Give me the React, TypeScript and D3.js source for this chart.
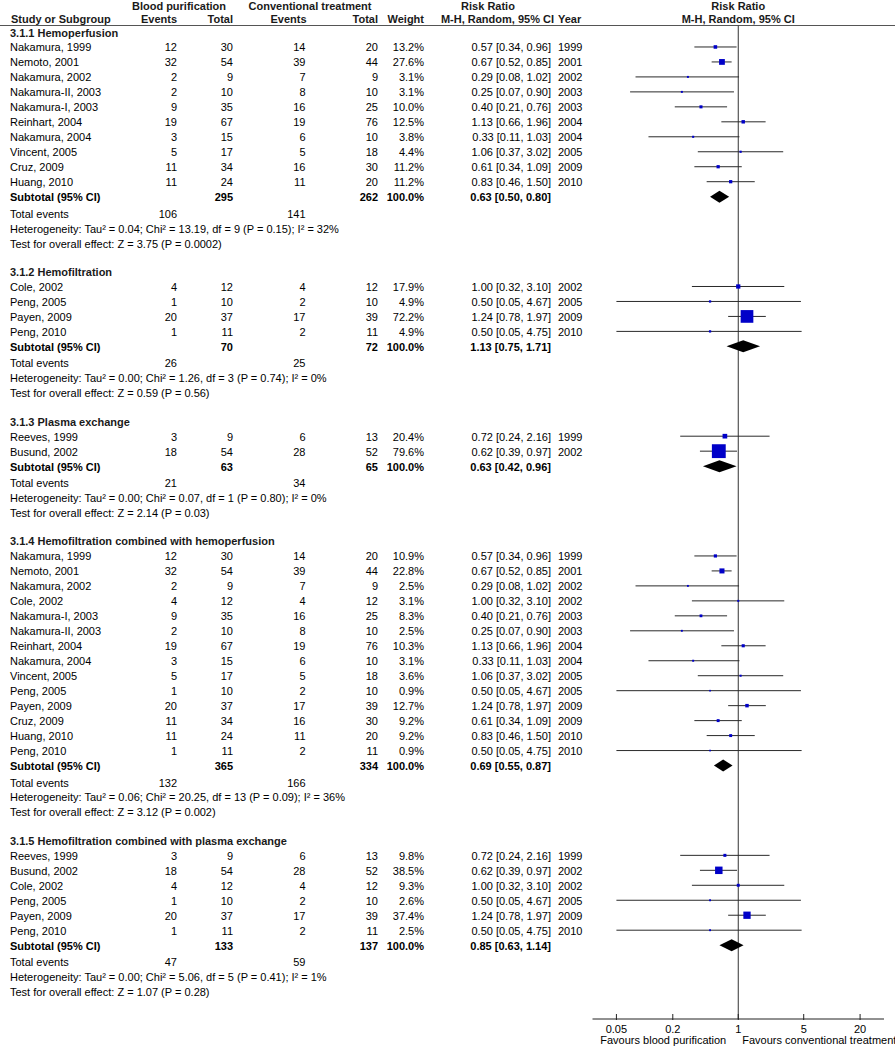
import React from "react";
import * as d3 from "d3";

type Study = [string, number, number, number, number, number, number, number, number, number];
// name, events1, total1, events2, total2, weight, rr, lo, hi, year

const hemoperfusionStudies: Study[] = [
  ["Nakamura, 1999", 12, 30, 14, 20, 13.2, 0.57, 0.34, 0.96, 1999],
  ["Nemoto, 2001", 32, 54, 39, 44, 27.6, 0.67, 0.52, 0.85, 2001],
  ["Nakamura, 2002", 2, 9, 7, 9, 3.1, 0.29, 0.08, 1.02, 2002],
  ["Nakamura-II, 2003", 2, 10, 8, 10, 3.1, 0.25, 0.07, 0.9, 2003],
  ["Nakamura-I, 2003", 9, 35, 16, 25, 10.0, 0.4, 0.21, 0.76, 2003],
  ["Reinhart, 2004", 19, 67, 19, 76, 12.5, 1.13, 0.66, 1.96, 2004],
  ["Nakamura, 2004", 3, 15, 6, 10, 3.8, 0.33, 0.11, 1.03, 2004],
  ["Vincent, 2005", 5, 17, 5, 18, 4.4, 1.06, 0.37, 3.02, 2005],
  ["Cruz, 2009", 11, 34, 16, 30, 11.2, 0.61, 0.34, 1.09, 2009],
  ["Huang, 2010", 11, 24, 11, 20, 11.2, 0.83, 0.46, 1.5, 2010],
];

const hemofiltrationStudies: Study[] = [
  ["Cole, 2002", 4, 12, 4, 12, 17.9, 1.0, 0.32, 3.1, 2002],
  ["Peng, 2005", 1, 10, 2, 10, 4.9, 0.5, 0.05, 4.67, 2005],
  ["Payen, 2009", 20, 37, 17, 39, 72.2, 1.24, 0.78, 1.97, 2009],
  ["Peng, 2010", 1, 11, 2, 11, 4.9, 0.5, 0.05, 4.75, 2010],
];

const plasmaStudies: Study[] = [
  ["Reeves, 1999", 3, 9, 6, 13, 20.4, 0.72, 0.24, 2.16, 1999],
  ["Busund, 2002", 18, 54, 28, 52, 79.6, 0.62, 0.39, 0.97, 2002],
];

const hfHpStudies: Study[] = [
  ["Nakamura, 1999", 12, 30, 14, 20, 10.9, 0.57, 0.34, 0.96, 1999],
  ["Nemoto, 2001", 32, 54, 39, 44, 22.8, 0.67, 0.52, 0.85, 2001],
  ["Nakamura, 2002", 2, 9, 7, 9, 2.5, 0.29, 0.08, 1.02, 2002],
  ["Cole, 2002", 4, 12, 4, 12, 3.1, 1.0, 0.32, 3.1, 2002],
  ["Nakamura-I, 2003", 9, 35, 16, 25, 8.3, 0.4, 0.21, 0.76, 2003],
  ["Nakamura-II, 2003", 2, 10, 8, 10, 2.5, 0.25, 0.07, 0.9, 2003],
  ["Reinhart, 2004", 19, 67, 19, 76, 10.3, 1.13, 0.66, 1.96, 2004],
  ["Nakamura, 2004", 3, 15, 6, 10, 3.1, 0.33, 0.11, 1.03, 2004],
  ["Vincent, 2005", 5, 17, 5, 18, 3.6, 1.06, 0.37, 3.02, 2005],
  ["Peng, 2005", 1, 10, 2, 10, 0.9, 0.5, 0.05, 4.67, 2005],
  ["Payen, 2009", 20, 37, 17, 39, 12.7, 1.24, 0.78, 1.97, 2009],
  ["Cruz, 2009", 11, 34, 16, 30, 9.2, 0.61, 0.34, 1.09, 2009],
  ["Huang, 2010", 11, 24, 11, 20, 9.2, 0.83, 0.46, 1.5, 2010],
  ["Peng, 2010", 1, 11, 2, 11, 0.9, 0.5, 0.05, 4.75, 2010],
];

const hfPeStudies: Study[] = [
  ["Reeves, 1999", 3, 9, 6, 13, 9.8, 0.72, 0.24, 2.16, 1999],
  ["Busund, 2002", 18, 54, 28, 52, 38.5, 0.62, 0.39, 0.97, 2002],
  ["Cole, 2002", 4, 12, 4, 12, 9.3, 1.0, 0.32, 3.1, 2002],
  ["Peng, 2005", 1, 10, 2, 10, 2.6, 0.5, 0.05, 4.67, 2005],
  ["Payen, 2009", 20, 37, 17, 39, 37.4, 1.24, 0.78, 1.97, 2009],
  ["Peng, 2010", 1, 11, 2, 11, 2.5, 0.5, 0.05, 4.75, 2010],
];

const sectionTitles = [
  "3.1.1 Hemoperfusion",
  "3.1.2 Hemofiltration",
  "3.1.3 Plasma exchange",
  "3.1.4 Hemofiltration combined with hemoperfusion",
  "3.1.5 Hemofiltration combined with plasma exchange",
];
const sectionStudies = [hemoperfusionStudies, hemofiltrationStudies, plasmaStudies, hfHpStudies, hfPeStudies];
// subtotal: total1, total2, rr, lo, hi
const subtotals: [number, number, number, number, number][] = [
  [295, 262, 0.63, 0.5, 0.8],
  [70, 72, 1.13, 0.75, 1.71],
  [63, 65, 0.63, 0.42, 0.96],
  [365, 334, 0.69, 0.55, 0.87],
  [133, 137, 0.85, 0.63, 1.14],
];
const totalEvents: [number, number][] = [
  [106, 141],
  [26, 25],
  [21, 34],
  [132, 166],
  [47, 59],
];
const heterogeneity = [
  "Heterogeneity: Tau² = 0.04; Chi² = 13.19, df = 9 (P = 0.15); I² = 32%",
  "Heterogeneity: Tau² = 0.00; Chi² = 1.26, df = 3 (P = 0.74); I² = 0%",
  "Heterogeneity: Tau² = 0.00; Chi² = 0.07, df = 1 (P = 0.80); I² = 0%",
  "Heterogeneity: Tau² = 0.06; Chi² = 20.25, df = 13 (P = 0.09); I² = 36%",
  "Heterogeneity: Tau² = 0.00; Chi² = 5.06, df = 5 (P = 0.41); I² = 1%",
];
const overallEffect = [
  "Test for overall effect: Z = 3.75 (P = 0.0002)",
  "Test for overall effect: Z = 0.59 (P = 0.56)",
  "Test for overall effect: Z = 2.14 (P = 0.03)",
  "Test for overall effect: Z = 3.12 (P = 0.002)",
  "Test for overall effect: Z = 1.07 (P = 0.28)",
];
const axisTicks = [0.05, 0.2, 1, 5, 20];

const FONT = "'Liberation Sans', Arial, Helvetica, sans-serif";
const BLUE = "#0000c8";

type Row =
  | { kind: "title"; idx: number; text: string }
  | { kind: "study"; idx: number; s: Study }
  | { kind: "subtotal"; idx: number; sub: [number, number, number, number, number] }
  | { kind: "events"; idx: number; ev: [number, number] }
  | { kind: "text"; idx: number; text: string };

export default function App() {
  const rows: Row[] = [];
  let idx = 0;
  sectionTitles.forEach((t, i) => {
    rows.push({ kind: "title", idx: idx++, text: t });
    sectionStudies[i].forEach((s) => rows.push({ kind: "study", idx: idx++, s }));
    rows.push({ kind: "subtotal", idx: idx++, sub: subtotals[i] });
    rows.push({ kind: "events", idx: idx++, ev: totalEvents[i] });
    rows.push({ kind: "text", idx: idx++, text: heterogeneity[i] });
    rows.push({ kind: "text", idx: idx++, text: overallEffect[i] });
    idx++; // blank
  });
  const lastIdx = idx - 2;

  const y = d3.scaleLinear().domain([0, lastIdx]).range([32, 32 + lastIdx * 14.97]);
  const x = d3.scaleLog().domain([1 / 36, 36]).range([592.5, 884]);
  const box = d3.scaleLinear().domain([0, 100]).range([1.5, 17]);
  const f2 = d3.format(".2f");
  const f1 = d3.format(".1f");
  const ci = (r: number, l: number, h: number) => `${f2(r)} [${f2(l)}, ${f2(h)}]`;

  const axisY = 1019;
  const cx = x(1);

  const col = { name: 10, e1: 177, n1: 233, e2: 305.5, n2: 378, w: 424, est: 551, year: 558 };
  const tb = 4.5; // baseline offset

  const txt = (
    xx: number,
    yy: number,
    s: string | number,
    anchor: "start" | "end" | "middle" = "start",
    bold = false,
    key?: string
  ) => (
    <text key={key} x={xx} y={yy} textAnchor={anchor} fontWeight={bold ? "bold" : "normal"}>
      {s}
    </text>
  );

  return (
    <svg
      width={895}
      height={1050}
      style={{ position: "absolute", left: 0, top: 0, background: "#fff" }}
      fontFamily={FONT}
      fontSize={11}
      fill="#000"
    >
      <rect width={895} height={1050} fill="#fff" />
      {/* header */}
      <g fontWeight="bold" fill="#1a1a1a">
        <text x={179} y={9.5} textAnchor="middle">Blood purification</text>
        <text x={310} y={9.5} textAnchor="middle">Conventional treatment</text>
        <text x={488} y={9.5} textAnchor="middle">Risk Ratio</text>
        <text x={cx} y={9.5} textAnchor="middle">Risk Ratio</text>
        <text x={col.name + 1} y={23}>Study or Subgroup</text>
        <text x={col.e1} y={23} textAnchor="end">Events</text>
        <text x={col.n1} y={23} textAnchor="end">Total</text>
        <text x={col.e2 + 1} y={23} textAnchor="end">Events</text>
        <text x={col.n2} y={23} textAnchor="end">Total</text>
        <text x={col.w} y={23} textAnchor="end">Weight</text>
        <text x={554} y={23} textAnchor="end">M-H, Random, 95% CI</text>
        <text x={col.year} y={23}>Year</text>
        <text x={cx} y={23} textAnchor="middle">M-H, Random, 95% CI</text>
      </g>
      <line x1={0} x2={895} y1={25.5} y2={25.5} stroke="#555" strokeWidth={1} />
      {/* center line */}
      <line x1={cx} x2={cx} y1={25.5} y2={axisY} stroke="#333" strokeWidth={1} />

      {rows.map((r, i) => {
        const yy = y(r.idx);
        const by = yy + tb;
        if (r.kind === "title") {
          return (
            <g key={i} fill="#1a1a1a">
              {txt(col.name, by, r.text, "start", true)}
            </g>
          );
        }
        if (r.kind === "study") {
          const [name, e1, n1, e2, n2, w, rr, lo, hi, yr] = r.s;
          const sz = box(w);
          return (
            <g key={i}>
              {txt(col.name, by, name)}
              {txt(col.e1, by, e1, "end")}
              {txt(col.n1, by, n1, "end")}
              {txt(col.e2, by, e2, "end")}
              {txt(col.n2, by, n2, "end")}
              {txt(col.w, by, `${f1(w)}%`, "end")}
              {txt(col.est, by, ci(rr, lo, hi), "end")}
              {txt(col.year, by, yr)}
              <line x1={x(lo)} x2={x(hi)} y1={yy} y2={yy} stroke="#2a2a2a" strokeWidth={1} />
              <rect x={x(rr) - sz / 2} y={yy - sz / 2} width={sz} height={sz} fill={BLUE} />
            </g>
          );
        }
        if (r.kind === "subtotal") {
          const [t1, t2, rr, lo, hi] = r.sub;
          const d = `M${x(lo)},${yy} L${x(rr)},${yy - 6} L${x(hi)},${yy} L${x(rr)},${yy + 6} Z`;
          return (
            <g key={i} fontWeight="bold">
              {txt(col.name, by, "Subtotal (95% CI)", "start", true)}
              {txt(col.n1, by, t1, "end", true)}
              {txt(col.n2, by, t2, "end", true)}
              {txt(col.w, by, "100.0%", "end", true)}
              {txt(col.est, by, ci(rr, lo, hi), "end", true)}
              <path d={d} fill="#000" />
            </g>
          );
        }
        if (r.kind === "events") {
          return (
            <g key={i}>
              {txt(col.name, by + 1.5, "Total events")}
              {txt(col.e1, by + 1.5, r.ev[0], "end")}
              {txt(col.e2, by + 1.5, r.ev[1], "end")}
            </g>
          );
        }
        return <g key={i}>{txt(col.name, by + 1.5, r.text)}</g>;
      })}

      {/* axis */}
      <line x1={592.5} x2={884} y1={axisY} y2={axisY} stroke="#222" strokeWidth={1} />
      {axisTicks.map((t) => (
        <g key={t}>
          <line x1={x(t)} x2={x(t)} y1={axisY - 5} y2={axisY + 1} stroke="#222" />
          <text x={x(t)} y={axisY + 14} textAnchor="middle">
            {t}
          </text>
        </g>
      ))}
      <text x={cx - 12} y={axisY + 25} textAnchor="end">Favours blood purification</text>
      <text x={cx + 4} y={axisY + 25}>Favours conventional treatment</text>
    </svg>
  );
}
